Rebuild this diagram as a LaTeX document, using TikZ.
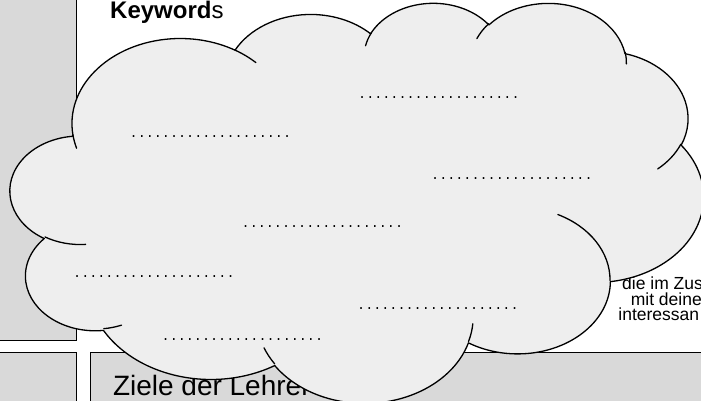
\documentclass[tikz,border=0pt]{standalone}
\usepackage{fontspec}
\setmainfont{Liberation Sans}
\newfontfamily\dotsfont{Liberation Mono}
\definecolor{panelgray}{HTML}{D9D9D9}
\definecolor{cloudfill}{HTML}{EEEEEE}
\def\cloudX{10.4}\def\cloudY{2}\def\cloudW{693}\def\cloudH{400}
\newcommand\cpt[2]{({\cloudX+(#1)/4320*\cloudW},{\cloudY+(#2)/4320*\cloudH})}
\newcommand\cloudarccalc[4]{%
  \pgfmathsetmacro\cta{atan2((#1)*sin(#3),(#2)*cos(#3))}%
  \pgfmathsetmacro\ctb{atan2((#1)*sin((#3)+(#4)),(#2)*cos((#3)+(#4)))}%
  \pgfmathsetmacro\ctd{mod((\ctb)-(\cta)+720,360)}%
  \pgfmathsetmacro\csa{0-(\cta)}%
  \pgfmathsetmacro\cea{0-(\cta)-(\ctd)}%
  \pgfmathsetmacro\crx{(#1)/4320*\cloudW}%
  \pgfmathsetmacro\cry{(#2)/4320*\cloudH}%
}
\newcommand\carc[4]{\pgfextra{\cloudarccalc{#1}{#2}{#3}{#4}} arc[start angle=\csa, end angle=\cea, x radius=\crx pt, y radius=\cry pt]}
\tikzset{
  panel/.style={fill=panelgray, draw=black, line width=1pt},
  cloudbody/.style={fill=cloudfill, draw=black, line width=1.3pt, line join=round},
  cloudline/.style={draw=black, line width=1.3pt, line cap=round},
  dotline/.style={anchor=base west, inner sep=0pt, font=\dotsfont\fontsize{13.45}{15}\selectfont},
  txt/.style={anchor=base west, inner sep=0pt},
  sidetxt/.style={anchor=north west, inner sep=0pt, align=left,
    font=\fontsize{17.5}{15.5}\selectfont}
}
\begin{document}
\begin{tikzpicture}[x=1pt,y=-1pt]
\useasboundingbox (0,0) rectangle (701,401);
\clip (0,0) rectangle (701,401);
\fill[white] (0,0) rectangle (701,401);
% panels
\path[panel] (-3,-3) rectangle (76,340);
\path[panel] (-3,352) rectangle (76,405);
\path[panel] (90.5,352) rectangle (705,405);
% texts
\node[txt, font=\fontsize{24}{28}\selectfont] (kw) at (110,19) {\textbf{Keyword}s};
\node[txt, font=\fontsize{28}{32}\selectfont] (ziele) at (112.8,395) {Ziele der Lehrer};
\node[sidetxt] (side) at (618.2,277) {\hspace*{3.8pt}die im Zus\\\hspace*{12.4pt}mit deine\\interessan};
% cloud
\path[cloudbody] \cpt{390}{1437}
 \carc{675.3}{919.0}{-190.4875}{123.7805}
 \carc{533.3}{726.7}{-144.1024}{89.9452}
 \carc{436.5}{594.5}{-145.8079}{99.7230}
 \carc{485.7}{659.5}{-130.9861}{117.2417}
 \carc{533.3}{727.3}{-78.7089}{109.0269}
 \carc{677.5}{922.0}{-46.2673}{130.2690}
 \carc{578.5}{786.7}{0.6250}{114.0333}
 \carc{675.2}{921.5}{22.4516}{115.1726}
 \carc{772.0}{1054.3}{66.2426}{75.7110}
 \carc{436.0}{591.8}{-274.9421}{146.7356}
 \carc{434.5}{594.5}{-246.8285}{152.5189}
 -- cycle;
\path[cloudline] \cpt{469.3}{2617.7} \carc{434.5}{594.5}{86.7420}{26.4295};
\path[cloudline] \cpt{692.8}{3489.9} \carc{436.0}{591.8}{73.6105}{11.4475};
\path[cloudline] \cpt{1647.8}{3909.0} \carc{675.2}{921.5}{137.6242}{14.0811};
\path[cloudline] \cpt{2882.7}{3475.1} \carc{675.2}{921.5}{6.4533}{15.9984};
\path[cloudline] \cpt{3412.9}{2295.4} \carc{578.5}{786.7}{-70.2924}{70.9174};
\path[cloudline] \cpt{4179.8}{1535.4} \carc{533.3}{727.3}{30.3180}{27.7515};
\path[cloudline] \cpt{3832.4}{542.6} \carc{485.7}{659.5}{-13.7443}{14.8589};
\path[cloudline] \cpt{2907.8}{395.2} \carc{485.7}{659.5}{-149.1815}{18.1954};
\path[cloudline] \cpt{2214.1}{472.0} \carc{436.5}{594.5}{-163.4943}{17.6864};
\path[cloudline] \cpt{1400.0}{519.2} \carc{675.3}{919.0}{-66.7070}{12.3194};
\path[cloudline] \cpt{412.7}{1578.9} \carc{675.3}{919.0}{157.6544}{11.8582};
% dotted lines
\node[dotline] (d1) at (129.5,138) {....................};
\node[dotline] (d2) at (358,98.5) {....................};
\node[dotline] (d3) at (431,179.5) {....................};
\node[dotline] (d4) at (73,277) {....................};
\node[dotline] (d5) at (161.5,340.1) {....................};
\node[dotline] (d6) at (241.5,227) {....................};
\node[dotline] (d7) at (357,309.1) {....................};
\end{tikzpicture}
\end{document}
